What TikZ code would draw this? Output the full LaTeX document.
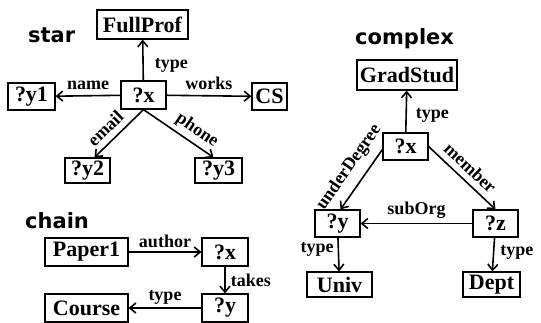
\documentclass[tikz,border=0pt]{standalone}
\usepackage{fontspec}
\setmainfont{Liberation Serif}
\newfontfamily\titlefont{DejaVu Sans}
\usetikzlibrary{arrows.meta}

\begin{document}
\begin{tikzpicture}[x=1pt, y=-1pt,
  box/.style={draw, line width=1.2pt, inner xsep=3pt, inner ysep=2pt, minimum width=45pt, minimum height=27pt, font=\fontsize{22}{24}\selectfont\bfseries},
  lbl/.style={font=\fontsize{18}{20}\selectfont\bfseries, inner sep=2pt},
  ttl/.style={anchor=base west, inner sep=0pt, font=\titlefont\fontsize{21}{24}\selectfont\bfseries},
  rel/.style={-{Straight Barb[length=6pt,width=10pt]}, line width=1.6pt}]
\useasboundingbox (0,0) rectangle (541,322);
% star
\node[ttl] (tstar) at (28,42) {star};
\node[box, minimum width=91pt, minimum height=29pt] (sfull) at (142.5,24.5) {FullProf};
\node[box, minimum height=28pt] (sx) at (143.5,95) {?x};
\node[box, minimum width=47pt] (sy1) at (31.5,96.5) {?y1};
\node[box, minimum width=35pt] (scs) at (269.5,96.5) {CS};
\node[box, minimum height=25pt] (sy2) at (87.5,170.5) {?y2};
\node[box, minimum width=47pt, minimum height=25pt] (sy3) at (218.5,170.5) {?y3};
\draw[rel] (sx) -- node[lbl, right=9pt, pos=0.36] {type} (sfull);
\draw[rel] (sx) -- node[lbl, above=3pt] {name} (sy1);
\draw[rel] (sx) -- node[lbl, above=3pt] {works} (scs);
\draw[rel] (sx.south) -- node[lbl, sloped, above=4pt, pos=0.59] {email} ([xshift=7pt]sy2.north);
\draw[rel] (sx.south) -- node[lbl, sloped, above=2pt, pos=0.66] {phone} ([xshift=-5pt]sy3.north);
% chain
\node[ttl] (tchain) at (25,228) {chain};
\node[box, minimum width=83pt, minimum height=28pt] (cp1) at (86.5,252) {Paper1};
\node[box, minimum width=46pt, minimum height=28pt] (chx) at (225,252) {?x};
\node[box, minimum width=46pt, minimum height=28pt] (chy) at (225,308) {?y};
\node[box, minimum width=83pt, minimum height=28pt] (ccourse) at (86.5,308) {Course};
\draw[rel] (cp1) -- node[lbl, above=1pt] {author} (chx);
\draw[rel] (chx) -- node[lbl, right=3pt] {takes} (chy);
\draw[rel] (chy) -- node[lbl, above=1pt] {type} (ccourse);
% complex
\node[ttl] (tcomplex) at (355,44) {complex};
\node[box, minimum width=100pt, minimum height=30pt] (cgrad) at (407,75) {GradStud};
\node[box] (cx) at (405.5,146.5) {?x};
\node[box] (cy) at (337.5,223.5) {?y};
\node[box] (cz) at (495.5,223.5) {?z};
\node[box, minimum width=65pt, minimum height=25pt] (cuniv) at (339.5,284.5) {Univ};
\node[box, minimum width=57pt, minimum height=25pt] (cdept) at (491.5,284.5) {Dept};
\draw[rel] (cx) -- node[lbl, right=7pt, pos=0.4] {type} (cgrad);
\draw[rel] ([yshift=-3pt]cx.west) -- node[lbl, sloped, above=6pt, pos=0.46] {underDegree} ([xshift=3pt]cy.north);
\draw[rel] (cx.east) -- node[lbl, sloped, above=4pt, pos=0.49] {member} (cz.north);
\draw[rel] (cz) -- node[lbl, above=2pt] {subOrg} (cy);
\draw[rel] (cy) -- node[lbl, left=2pt, pos=0.35] {type} (cuniv);
\draw[rel] (cz) -- node[lbl, right=4pt, pos=0.45] {type} (cdept);
\end{tikzpicture}
\end{document}
